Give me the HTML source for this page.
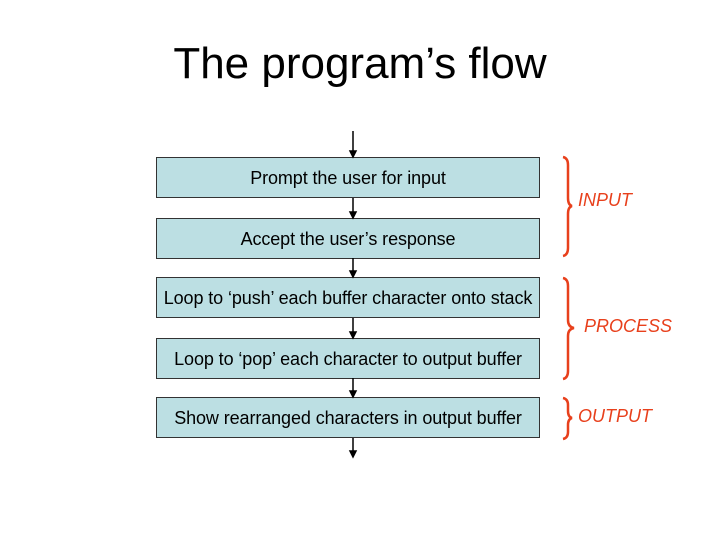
<!DOCTYPE html>
<html><head><style>
body{margin:0;width:720px;height:540px;background:#fff;position:relative;font-family:"Liberation Sans",sans-serif;overflow:hidden}
.t{position:absolute;left:0;width:720px;top:39px;text-align:center;font-size:44px;color:#000}
.b{position:absolute;left:156px;width:384px;height:41px;background:#bcdfe3;border:1px solid #333;box-sizing:border-box;text-align:center;font-size:18px;color:#000;white-space:nowrap;letter-spacing:-0.1px}
.l{position:absolute;color:#e8401c;font-style:italic;font-size:18px}
</style></head><body>
<div class="t" style="left:0px">The program’s flow</div>
<div class="b" style="top:157px;line-height:40px">Prompt the user for input</div>
<div class="b" style="top:218px;line-height:40px">Accept the user’s response</div>
<div class="b" style="top:277px;line-height:40px">Loop to ‘push’ each buffer character onto stack</div>
<div class="b" style="top:338px;line-height:40px">Loop to ‘pop’ each character to output buffer</div>
<div class="b" style="top:397px;line-height:41px">Show rearranged characters in output buffer</div>
<svg width="720" height="540" style="position:absolute;left:0;top:0">
<g stroke="#000" stroke-width="1.5" fill="#000">
<line x1="353" y1="131" x2="353" y2="152"/><path d="M350,151 L356,151 L353,157z"/>
<line x1="353" y1="198" x2="353" y2="213"/><path d="M350,212 L356,212 L353,218z"/>
<line x1="353" y1="258" x2="353" y2="272"/><path d="M350,271 L356,271 L353,277z"/>
<line x1="353" y1="318" x2="353" y2="333"/><path d="M350,332 L356,332 L353,338z"/>
<line x1="353" y1="378" x2="353" y2="392"/><path d="M350,391 L356,391 L353,397z"/>
<line x1="353" y1="438" x2="353" y2="452"/><path d="M350,451 L356,451 L353,457z"/>
</g>
<g stroke="#e8401c" stroke-width="2.5" fill="none">
<path d="M563,157 Q568,158 568,165 L568,198 Q568,205 572,206 Q568,207 568,214 L568,248 Q568,255 563,256"/>
<path d="M563,278 Q568,279 568,286 L568,320 Q568,327 574,328 Q568,329 568,336 L568,371 Q568,378 563,379"/>
<path d="M563,398 Q568,399 568,405 L568,411 Q568,417 572,418 Q568,419 568,425 L568,432 Q568,438 563,439"/>
</g>
</svg>
<div class="l" style="left:578px;top:190px">INPUT</div>
<div class="l" style="left:584px;top:316px">PROCESS</div>
<div class="l" style="left:578px;top:406px">OUTPUT</div>
</body></html>
